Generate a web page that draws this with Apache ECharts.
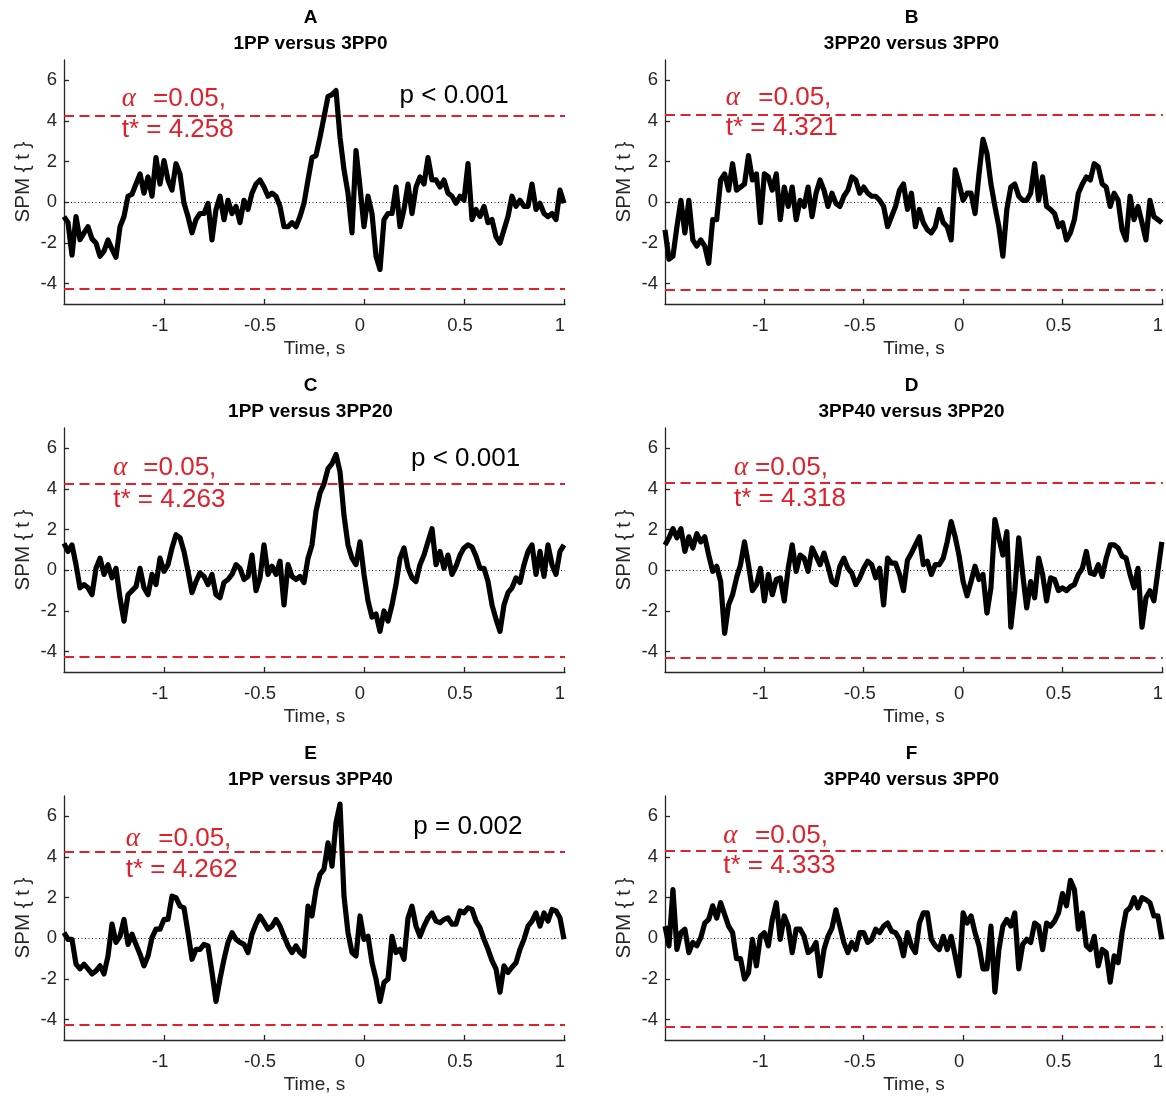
<!DOCTYPE html>
<html>
<head>
<meta charset="utf-8">
<script src="https://cdn.jsdelivr.net/npm/echarts@6/dist/echarts.min.js"></script>
<style>html,body{margin:0;padding:0;background:#fff}#c{width:1166px;height:1099px}</style>
</head>
<body>
<div id="c"></div>
<script>
// ---- data ----
const times = [-1.5,-1.48,-1.46,-1.44,-1.42,-1.4,-1.38,-1.36,-1.34,-1.32,
-1.3,-1.28,-1.26,-1.24,-1.22,-1.2,-1.18,-1.16,-1.14,-1.12,
-1.1,-1.08,-1.06,-1.04,-1.02,-1.0,-0.98,-0.96,-0.94,-0.92,
-0.9,-0.88,-0.86,-0.84,-0.82,-0.8,-0.78,-0.76,-0.74,-0.72,
-0.7,-0.68,-0.66,-0.64,-0.62,-0.6,-0.58,-0.56,-0.54,-0.52,
-0.5,-0.48,-0.46,-0.44,-0.42,-0.4,-0.38,-0.36,-0.34,-0.32,
-0.3,-0.28,-0.26,-0.24,-0.22,-0.2,-0.18,-0.16,-0.14,-0.12,
-0.1,-0.08,-0.06,-0.04,-0.02,0.0,0.02,0.04,0.06,0.08,
0.1,0.12,0.14,0.16,0.18,0.2,0.22,0.24,0.26,0.28,
0.3,0.32,0.34,0.36,0.38,0.4,0.42,0.44,0.46,0.48,
0.5,0.52,0.54,0.56,0.58,0.6,0.62,0.64,0.66,0.68,
0.7,0.72,0.74,0.76,0.78,0.8,0.82,0.84,0.86,0.88,
0.9,0.92,0.94,0.96,0.98,1.0];

const spmA = [-0.70,-1.0,-2.6,-0.7,-1.84,-1.5,-1.2,-1.8,-2.0,-2.65,
-2.4,-1.85,-2.3,-2.7,-1.2,-0.7,0.3,0.4,0.9,1.4,
0.45,1.25,0.3,2.2,0.9,2.05,1.1,0.6,1.9,1.4,
-0.05,-0.7,-1.5,-0.85,-0.55,-0.55,-0.05,-1.85,-0.35,0.3,
-0.85,0.1,-0.55,-0.2,-1.0,0.1,-0.35,0.45,0.9,1.1,
0.75,0.3,0.45,0.3,-0.2,-1.2,-1.2,-1.0,-1.2,-0.7,
-0.05,1.1,2.2,2.3,3.2,4.2,5.2,5.3,5.5,3.2,
1.6,0.45,-1.5,2.55,0.75,-1.2,0.3,-0.55,-2.65,-3.3,
-0.85,-0.55,-0.55,0.75,-1.2,-0.35,0.9,-0.55,0.75,1.25,
0.9,2.2,1.1,1.1,0.75,1.1,0.45,0.3,-0.05,0.3,
0.1,1.9,-0.85,-0.35,-0.7,-0.2,-1.0,-0.85,-1.7,-2.0,
-1.35,-0.7,0.3,-0.2,0.1,-0.2,-0.2,0.9,-0.35,-0.05,
-0.55,-0.7,-0.55,-0.85,0.6,-0.05];

const spmB = [-1.35,-2.8,-2.65,-1.2,0.1,-1.5,0.1,-1.85,-2.15,-1.85,
-2.15,-3.0,-0.85,-0.85,1.1,1.4,0.6,1.9,0.6,0.75,
0.9,2.3,1.1,1.4,-1.0,1.4,1.25,0.6,1.4,-0.85,
0.75,-0.2,0.75,-0.85,0.1,-0.2,0.75,-0.7,0.45,1.1,
0.6,-0.2,0.45,-0.05,-0.2,0.3,0.6,1.25,1.1,0.45,
0.75,0.45,0.3,0.3,0.1,-0.2,-1.2,-0.7,-0.2,0.6,
0.9,-0.35,0.45,-1.2,-0.35,-1.0,-1.35,-1.5,-1.2,-0.35,
-1.0,-1.2,-1.85,1.6,0.9,0.1,0.45,0.45,-0.55,1.4,
3.1,2.4,0.9,-0.2,-1.2,-2.65,-0.35,0.75,0.9,0.3,
0.1,0.1,0.45,1.9,0.1,1.25,-0.2,-0.35,-0.55,-1.2,
-1.0,-1.85,-1.5,-0.85,0.45,0.9,1.25,1.1,1.9,1.75,
0.9,0.75,-0.2,0.45,0.1,-1.35,-1.85,0.3,-0.85,-0.2,
-1.0,-1.85,0.1,-0.7,-0.85,-1.0];

const spmC = [1.33,0.93,1.25,0.28,-0.86,-0.7,-0.86,-1.2,0.1,0.6,
-0.2,0.28,-0.37,0.1,-1.35,-2.5,-1.2,-1.0,-0.8,0.1,
-0.86,-1.2,-0.2,-0.7,0.6,-0.05,0.28,1.1,1.75,1.6,
0.93,-0.05,-1.1,-0.55,-0.13,-0.3,-0.7,-0.2,-1.2,-1.35,
-0.6,-0.45,-0.2,0.28,0.1,-0.45,-0.3,0.75,-1.0,-0.37,
1.25,-0.2,0.2,-0.2,0.45,-1.7,0.28,-0.3,-0.45,-0.3,
-0.6,0.6,1.25,2.9,3.8,4.25,5.0,5.25,5.7,4.85,
2.7,1.25,0.6,0.28,1.4,-0.2,-1.5,-2.3,-2.15,-3.0,
-2.0,-2.5,-1.7,-0.7,0.6,1.1,0.1,-0.37,-0.55,0.28,
0.75,1.4,2.05,0.28,0.93,0.1,0.75,-0.2,0.2,0.75,
1.1,1.25,1.15,0.7,0.1,0.1,-0.55,-1.7,-2.4,-3.0,
-1.7,-1.1,-0.86,-0.37,-0.6,0.28,0.93,1.25,-0.2,0.93,
-0.3,1.25,0.28,-0.2,0.93,1.25];

const spmD = [1.25,1.6,2.05,1.6,2.05,0.93,1.65,1.1,1.8,1.4,
1.65,0.75,-0.05,0.2,-0.55,-3.1,-1.7,-1.2,-0.37,0.28,
1.4,0.28,-1.0,-0.7,0.1,-1.5,-0.2,-1.2,-0.45,-0.37,
-1.5,0.1,1.25,-0.05,0.75,0.6,-0.05,1.1,0.7,0.28,
0.85,0.2,-0.55,-0.7,0.2,0.6,0.1,-0.13,-0.7,-0.37,
0.1,0.45,0.28,-0.37,0.1,-1.7,0.6,0.35,0.35,-0.2,
-1.0,0.5,0.85,1.25,1.65,0.28,0.45,-0.2,0.28,0.28,
0.6,1.4,2.4,1.65,0.7,-0.55,-1.25,-0.55,0.2,-0.45,
-0.2,-2.1,-0.86,2.5,1.6,0.75,1.9,-2.8,-1.0,1.6,
-0.2,-1.85,-0.55,-1.35,0.6,-0.2,-1.5,-0.37,-0.45,-1.0,
-0.86,-1.0,-0.8,-0.7,-0.2,0.1,0.93,-0.13,-0.2,0.28,
-0.3,0.6,1.25,1.25,1.1,0.7,0.6,-0.2,-0.86,0.1,
-2.8,-1.35,-1.0,-1.5,-0.05,1.4];

const spmE = [0.28,-0.05,-0.05,-1.27,-1.5,-1.27,-1.5,-1.75,-1.6,-1.35,
-1.75,-0.87,0.7,-0.2,0.1,0.93,-0.3,0.2,-0.3,-0.78,
-1.35,-0.87,0.03,0.45,0.45,0.93,0.93,2.07,2.0,1.58,
1.5,0.28,-1.03,-0.54,-0.54,-0.3,-0.37,-1.68,-3.1,-2.0,
-1.03,-0.2,0.28,-0.05,-0.2,-0.3,-0.7,0.2,0.7,1.1,
0.78,0.45,0.6,0.93,0.6,0.1,-0.37,-0.7,-0.37,-0.7,
-0.87,1.58,1.1,2.4,3.15,3.4,4.7,3.55,5.7,6.6,
2.07,0.28,-0.7,-0.87,1.1,-0.05,0.1,-1.2,-2.0,-3.1,
-2.17,-2.0,0.1,-0.7,-0.54,-1.03,1.0,1.58,0.6,0.1,
0.6,1.0,1.25,0.85,0.77,0.93,1.0,0.7,0.7,1.35,
1.25,1.5,1.42,0.85,0.52,-0.05,-0.54,-1.1,-1.5,-2.65,
-1.35,-1.68,-1.42,-1.2,-0.54,-0.05,0.6,0.85,1.25,0.6,
1.25,0.85,1.42,1.35,1.0,-0.05];

const spmF = [0.6,-0.37,2.4,-0.55,0.28,0.45,-0.7,-0.2,-0.37,0.03,
0.75,0.93,1.6,1.0,1.75,1.17,0.6,0.28,-1.0,-1.0,
-2.0,-1.7,-0.05,-1.35,0.1,0.28,-0.37,0.93,1.75,-0.05,
1.1,0.6,-0.7,0.45,0.45,0.1,-0.7,-0.55,-0.2,-1.85,
-0.55,0.1,0.5,1.4,0.6,-0.2,-0.7,-0.2,-0.55,0.28,
0.28,-0.2,-0.05,0.45,0.28,0.6,0.75,0.35,0.28,-0.05,
-0.86,0.28,-0.37,-0.7,0.75,1.25,1.25,-0.05,-0.37,-0.55,
0.1,-0.55,0.1,-0.86,-1.85,1.25,0.75,1.1,0.28,-0.37,
-1.5,-1.5,0.6,-2.65,-0.55,0.6,0.93,0.6,1.25,-1.5,
-0.3,-0.05,-0.2,0.75,0.6,-0.55,0.75,0.6,0.85,1.25,
2.2,1.6,2.85,2.4,0.45,1.25,-0.37,-0.55,0.1,-1.35,
-0.55,-0.7,-2.15,-0.86,-1.2,0.28,1.33,1.5,2.0,1.5,
2.0,1.9,1.75,1.1,1.1,-0.05];

const letters = ['A','B','C','D','E','F'];
const titles = ['1PP versus 3PP0','3PP20 versus 3PP0','1PP versus 3PP20','3PP40 versus 3PP20','1PP versus 3PP40','3PP40 versus 3PP0'];
const thresholds = [4.258, 4.321, 4.263, 4.318, 4.262, 4.333];
const pTexts = ['p < 0.001', null, 'p < 0.001', null, 'p = 0.002', null];
const xTicks = [-1, -0.5, 0, 0.5, 1];
const yTicks = [-4, -2, 0, 2, 4, 6];
const xRange = [-1.5, 1.005];
const yRange = [-5, 7];
const seriesValues = [spmA, spmB, spmC, spmD, spmE, spmF];

// ---- layout ----
const colLeft = [64, 665], rowTop = [60, 428, 796], W = 501, H = 244;
const alphaPos = [[57.7,89,39,70],[60.7,93.3,38,68],[49.3,79.3,40,72],[69,90,40,71],[61.7,94.3,43,73.6],[58.3,90,39.6,70]];
const pPos = [[335.6,36], null, [347,31], null, [349.3,31], null];
const FONT = '"Liberation Sans", Arial, Helvetica, sans-serif';
const RED = '#e0202a';
const INK = '#262626';

const grids = [], xAxes = [], yAxes = [], series = [], graphics = [];
for (let k = 0; k < 6; k++) {
  const col = k % 2, row = Math.floor(k / 2);
  const L = colLeft[col], T = rowTop[row];
  grids.push({ left: L, top: T, width: W, height: H, containLabel: false });
  xAxes.push({
    type: 'value', gridIndex: k, min: xRange[0], max: xRange[1],
    name: 'Time, s', nameLocation: 'middle', nameGap: 35,
    nameTextStyle: { color: INK, fontSize: 19, fontFamily: FONT },
    axisLine: { show: true, onZero: false, lineStyle: { color: INK, width: 1.3 } },
    axisTick: { show: true, inside: true, length: 5, lineStyle: { color: INK, width: 1.3 }, customValues: xTicks },
    axisLabel: { show: true, color: INK, fontSize: 18.5, fontFamily: FONT, margin: 12, padding: [0, 8, 0, 0], customValues: xTicks, formatter: v => String(v) },
    splitLine: { show: false }
  });
  yAxes.push({
    type: 'value', gridIndex: k, min: yRange[0], max: yRange[1],
    name: 'SPM { t }', nameLocation: 'middle', nameGap: 30,
    nameTextStyle: { color: INK, fontSize: 20.5, fontFamily: FONT },
    axisLine: { show: true, onZero: false, lineStyle: { color: INK, width: 1.3 } },
    axisTick: { show: true, inside: true, length: 5, lineStyle: { color: INK, width: 1.3 }, customValues: yTicks },
    axisLabel: { show: true, color: INK, fontSize: 18.5, fontFamily: FONT, margin: 7, customValues: yTicks, formatter: v => String(v) },
    splitLine: { show: false }
  });
  const thr = thresholds[k];
  series.push({
    type: 'line', xAxisIndex: k, yAxisIndex: k,
    data: times.map((t, i) => [t, seriesValues[k][i]]),
    showSymbol: false, symbol: 'none', silent: true, animation: false, clip: true,
    lineStyle: { color: '#000', width: 5.2, join: 'round' },
    z: 3,
    markLine: {
      silent: true, symbol: ['none', 'none'], animation: false, label: { show: false }, z: 2,
      data: [
        { yAxis: 0, lineStyle: { color: '#111', width: 1, type: [1, 2.5] } },
        { yAxis: thr, lineStyle: { color: RED, width: 1.8, type: [10, 5.5] } },
        { yAxis: -thr, lineStyle: { color: RED, width: 1.8, type: [10, 5.5] } }
      ]
    }
  });
  const cx = L + W / 2 - 4;
  graphics.push({ type: 'text', x: cx, y: T - 42, silent: true,
    style: { text: letters[k], fill: '#000', font: 'bold 19px ' + FONT, align: 'center', textAlign: 'center', verticalAlign: 'middle', textVerticalAlign: 'middle' } });
  graphics.push({ type: 'text', x: cx, y: T - 16, silent: true,
    style: { text: titles[k], fill: '#000', font: 'bold 19px ' + FONT, align: 'center', textAlign: 'center', verticalAlign: 'middle', textVerticalAlign: 'middle' } });
  const ap = alphaPos[k];
  graphics.push({ type: 'text', x: L + ap[0], y: T + ap[2], silent: true, z: 10,
    style: { text: '\u03b1', fill: RED, font: 'italic 27px "Liberation Serif", "DejaVu Serif", serif', align: 'left', textAlign: 'left', verticalAlign: 'middle', textVerticalAlign: 'middle' } });
  graphics.push({ type: 'text', x: L + ap[1], y: T + ap[2], silent: true, z: 10,
    style: { text: '=0.05,', fill: RED, font: '26px ' + FONT, align: 'left', textAlign: 'left', verticalAlign: 'middle', textVerticalAlign: 'middle' } });
  graphics.push({ type: 'text', x: L + ap[0], y: T + ap[3], silent: true, z: 10,
    style: { text: 't* = ' + thr.toFixed(3), fill: RED, font: '26px ' + FONT, align: 'left', textAlign: 'left', verticalAlign: 'middle', textVerticalAlign: 'middle' } });
  if (pTexts[k]) {
    const pp = pPos[k];
    graphics.push({ type: 'text', x: L + pp[0], y: T + pp[1], silent: true, z: 10,
      style: { text: pTexts[k], fill: '#000', font: '26px ' + FONT, align: 'left', textAlign: 'left', verticalAlign: 'middle', textVerticalAlign: 'middle' } });
  }
}

const chart = echarts.init(document.getElementById('c'), null, { renderer: 'canvas' });
chart.setOption({
  backgroundColor: '#ffffff',
  animation: false,
  grid: grids, xAxis: xAxes, yAxis: yAxes, series: series,
  graphic: graphics
});
</script>
</body>
</html>
